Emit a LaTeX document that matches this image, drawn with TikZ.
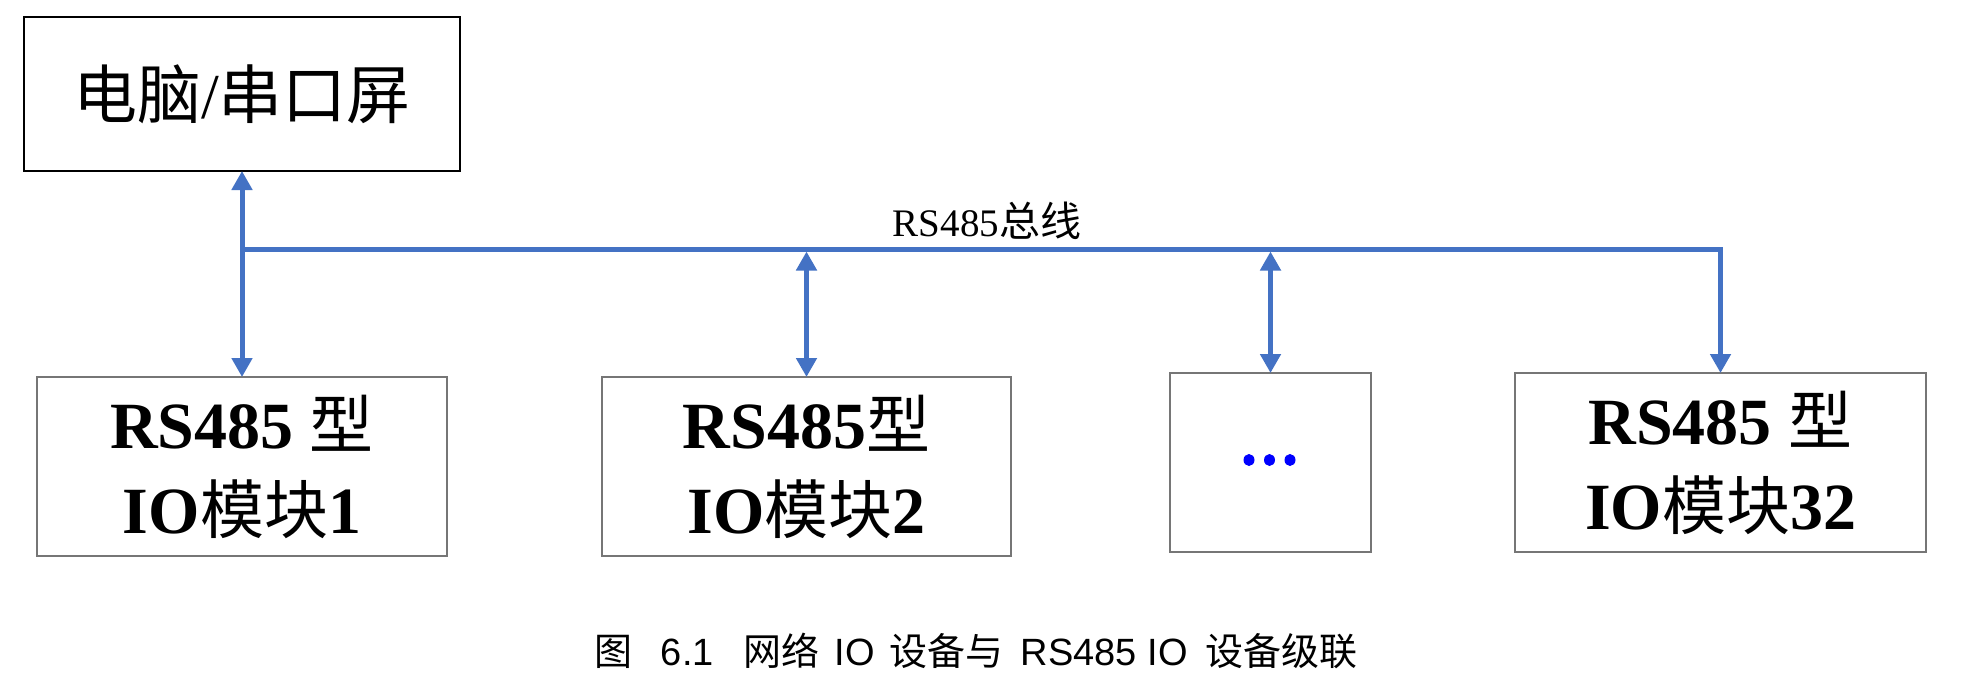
\documentclass[tikz,border=0pt]{standalone}
\usepackage{fontspec}
\setmainfont{Liberation Serif}
\newfontfamily\cjk{Noto Sans CJK SC}
\newfontfamily\capfont{Liberation Sans}
\usetikzlibrary{arrows.meta}
\definecolor{busblue}{HTML}{4472C4}
\definecolor{boxgray}{HTML}{767676}
\definecolor{dotblue}{HTML}{0000FF}
\newcommand{\cjkm}[1]{{\cjk\mdseries\fontsize{64}{85}\selectfont #1}}
\begin{document}
\begin{tikzpicture}[x=1pt,y=-1pt,
  box/.style={draw=boxgray, line width=1.5pt, inner sep=0pt, outer sep=0pt, align=center, minimum height=179pt},
  modfont/.style={font=\fontsize{66}{85}\selectfont\bfseries},
  bus/.style={draw=busblue, line width=5pt, line join=miter},
  tipb/.style={{Triangle[width=20pt,length=19pt]}-{Triangle[width=20pt,length=19pt]}},
  tipe/.style={-{Triangle[width=20pt,length=19pt]}},
  dot/.style={fill=dotblue}]
\useasboundingbox (0,0) rectangle (1988,680);
\fill[white] (0,0) rectangle (1988,680);

\node[box, draw=black, minimum width=436pt, minimum height=154pt, font=\fontsize{64}{70}\selectfont] (pc) at (242,94)
  {{\cjk 电脑}/{\cjk 串口屏}};

\node[box, modfont, minimum width=410pt] (m1) at (242,466.5)
  {RS485 \cjkm{型}\\IO\cjkm{模块}1};
\node[box, modfont, minimum width=409pt] (m2) at (806.5,466.5)
  {RS485\cjkm{型}\\IO\cjkm{模块}2};
\node[box, minimum width=201pt] (m3) at (1270.5,462.5) {};
\node[box, modfont, minimum width=411pt] (m4) at (1720.5,462.5)
  {RS485 \cjkm{型}\\IO\cjkm{模块}32};

\fill[dot] (1249,460) ellipse (5.5 and 6);
\fill[dot] (1269.5,460) ellipse (5.5 and 6);
\fill[dot] (1290,460) ellipse (5.5 and 6);

\coordinate (busy) at (0,249);
\coordinate (busbot) at (0,251.5);

\draw[bus, tipb] (pc.south) -- (m1.north);
\draw[bus, tipe] (pc.south |- busy) -- (m4.north |- busy) -- (m4.north);
\draw[bus, tipb] (m2.north |- busbot) -- (m2.north);
\draw[bus, tipb] (m3.north |- busbot) -- (m3.north);

\node[anchor=base, inner sep=0pt] (buslabel) at (987,236)
  {\fontsize{39}{40}\selectfont RS485{\cjk\fontsize{41}{40}\selectfont 总线}};

\node[inner sep=0pt, font=\capfont\fontsize{38}{40}\selectfont] (cap) at (976,651)
  {{\cjk 图}\hspace{28pt}6.1\hspace{30pt}{\cjk 网络}\hspace{15pt}IO\hspace{15pt}{\cjk 设备与}\hspace{17pt}RS485\hspace{11pt}IO\hspace{17pt}{\cjk 设备级联}};
\end{tikzpicture}
\end{document}
